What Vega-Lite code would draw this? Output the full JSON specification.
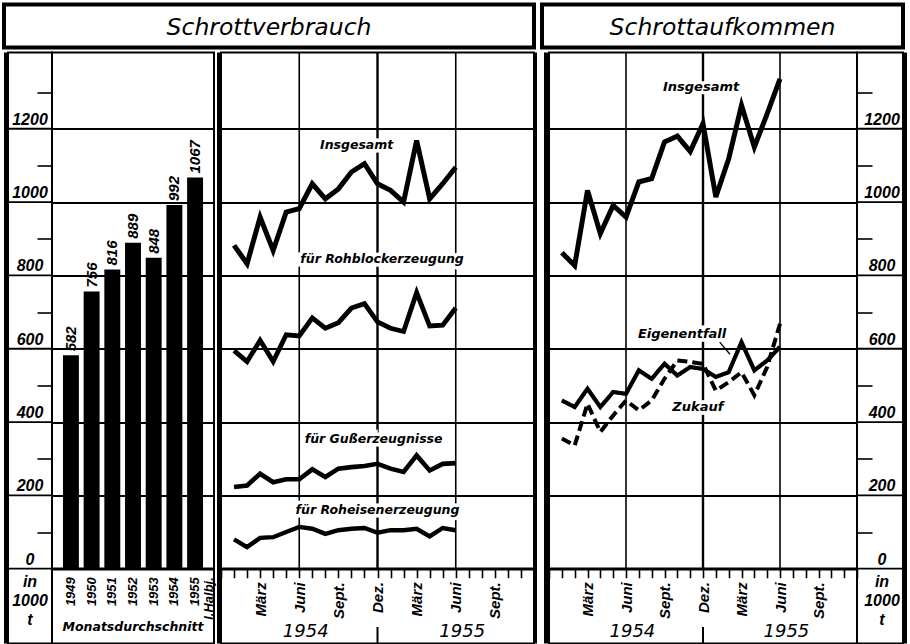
{
  "$schema": "https://vega.github.io/schema/vega-lite/v6.json",
  "background": "white",
  "padding": {"left": 2, "top": 2.5, "right": 0, "bottom": 0},
  "spacing": 0,
  "datasets": {
    "balken": [
      {"jahr": "1949", "wert": 582},
      {"jahr": "1950", "wert": 756},
      {"jahr": "1951", "wert": 816},
      {"jahr": "1952", "wert": 889},
      {"jahr": "1953", "wert": 848},
      {"jahr": "1954", "wert": 992},
      {"jahr": "1955 I.Halbj.", "wert": 1067}
    ],
    "verbrauch": [
      {"monat": 1, "reihe": "Insgesamt", "wert": 882}, {"monat": 2, "reihe": "Insgesamt", "wert": 832}, {"monat": 3, "reihe": "Insgesamt", "wert": 959}, {"monat": 4, "reihe": "Insgesamt", "wert": 868}, {"monat": 5, "reihe": "Insgesamt", "wert": 973}, {"monat": 6, "reihe": "Insgesamt", "wert": 982}, {"monat": 7, "reihe": "Insgesamt", "wert": 1050}, {"monat": 8, "reihe": "Insgesamt", "wert": 1009}, {"monat": 9, "reihe": "Insgesamt", "wert": 1036}, {"monat": 10, "reihe": "Insgesamt", "wert": 1082}, {"monat": 11, "reihe": "Insgesamt", "wert": 1105}, {"monat": 12, "reihe": "Insgesamt", "wert": 1050}, {"monat": 13, "reihe": "Insgesamt", "wert": 1032}, {"monat": 14, "reihe": "Insgesamt", "wert": 1000}, {"monat": 15, "reihe": "Insgesamt", "wert": 1168}, {"monat": 16, "reihe": "Insgesamt", "wert": 1009}, {"monat": 17, "reihe": "Insgesamt", "wert": 1050}, {"monat": 18, "reihe": "Insgesamt", "wert": 1095},
      {"monat": 1, "reihe": "für Rohblockerzeugung", "wert": 595}, {"monat": 2, "reihe": "für Rohblockerzeugung", "wert": 565}, {"monat": 3, "reihe": "für Rohblockerzeugung", "wert": 623}, {"monat": 4, "reihe": "für Rohblockerzeugung", "wert": 565}, {"monat": 5, "reihe": "für Rohblockerzeugung", "wert": 638}, {"monat": 6, "reihe": "für Rohblockerzeugung", "wert": 635}, {"monat": 7, "reihe": "für Rohblockerzeugung", "wert": 684}, {"monat": 8, "reihe": "für Rohblockerzeugung", "wert": 656}, {"monat": 9, "reihe": "für Rohblockerzeugung", "wert": 671}, {"monat": 10, "reihe": "für Rohblockerzeugung", "wert": 711}, {"monat": 11, "reihe": "für Rohblockerzeugung", "wert": 723}, {"monat": 12, "reihe": "für Rohblockerzeugung", "wert": 673}, {"monat": 13, "reihe": "für Rohblockerzeugung", "wert": 656}, {"monat": 14, "reihe": "für Rohblockerzeugung", "wert": 647}, {"monat": 15, "reihe": "für Rohblockerzeugung", "wert": 753}, {"monat": 16, "reihe": "für Rohblockerzeugung", "wert": 662}, {"monat": 17, "reihe": "für Rohblockerzeugung", "wert": 664}, {"monat": 18, "reihe": "für Rohblockerzeugung", "wert": 711},
      {"monat": 1, "reihe": "für Gußerzeugnisse", "wert": 223}, {"monat": 2, "reihe": "für Gußerzeugnisse", "wert": 227}, {"monat": 3, "reihe": "für Gußerzeugnisse", "wert": 259}, {"monat": 4, "reihe": "für Gußerzeugnisse", "wert": 236}, {"monat": 5, "reihe": "für Gußerzeugnisse", "wert": 244}, {"monat": 6, "reihe": "für Gußerzeugnisse", "wert": 244}, {"monat": 7, "reihe": "für Gußerzeugnisse", "wert": 271}, {"monat": 8, "reihe": "für Gußerzeugnisse", "wert": 250}, {"monat": 9, "reihe": "für Gußerzeugnisse", "wert": 273}, {"monat": 10, "reihe": "für Gußerzeugnisse", "wert": 277}, {"monat": 11, "reihe": "für Gußerzeugnisse", "wert": 280}, {"monat": 12, "reihe": "für Gußerzeugnisse", "wert": 286}, {"monat": 13, "reihe": "für Gußerzeugnisse", "wert": 273}, {"monat": 14, "reihe": "für Gußerzeugnisse", "wert": 264}, {"monat": 15, "reihe": "für Gußerzeugnisse", "wert": 309}, {"monat": 16, "reihe": "für Gußerzeugnisse", "wert": 268}, {"monat": 17, "reihe": "für Gußerzeugnisse", "wert": 286}, {"monat": 18, "reihe": "für Gußerzeugnisse", "wert": 288},
      {"monat": 1, "reihe": "für Roheisenerzeugung", "wert": 80}, {"monat": 2, "reihe": "für Roheisenerzeugung", "wert": 59}, {"monat": 3, "reihe": "für Roheisenerzeugung", "wert": 84}, {"monat": 4, "reihe": "für Roheisenerzeugung", "wert": 86}, {"monat": 5, "reihe": "für Roheisenerzeugung", "wert": 100}, {"monat": 6, "reihe": "für Roheisenerzeugung", "wert": 114}, {"monat": 7, "reihe": "für Roheisenerzeugung", "wert": 109}, {"monat": 8, "reihe": "für Roheisenerzeugung", "wert": 95}, {"monat": 9, "reihe": "für Roheisenerzeugung", "wert": 105}, {"monat": 10, "reihe": "für Roheisenerzeugung", "wert": 109}, {"monat": 11, "reihe": "für Roheisenerzeugung", "wert": 111}, {"monat": 12, "reihe": "für Roheisenerzeugung", "wert": 98}, {"monat": 13, "reihe": "für Roheisenerzeugung", "wert": 105}, {"monat": 14, "reihe": "für Roheisenerzeugung", "wert": 105}, {"monat": 15, "reihe": "für Roheisenerzeugung", "wert": 109}, {"monat": 16, "reihe": "für Roheisenerzeugung", "wert": 88}, {"monat": 17, "reihe": "für Roheisenerzeugung", "wert": 111}, {"monat": 18, "reihe": "für Roheisenerzeugung", "wert": 105}
    ],
    "verbrauchText": [
      {"reihe": "Insgesamt", "monat": 10.4, "wert": 1155},
      {"reihe": "für Rohblockerzeugung", "monat": 12.35, "wert": 844},
      {"reihe": "für Gußerzeugnisse", "monat": 11.7, "wert": 353},
      {"reihe": "für Roheisenerzeugung", "monat": 12.0, "wert": 160}
    ],
    "aufkommen": [
      {"monat": 1, "reihe": "Insgesamt", "wert": 862}, {"monat": 2, "reihe": "Insgesamt", "wert": 827}, {"monat": 3, "reihe": "Insgesamt", "wert": 1032}, {"monat": 4, "reihe": "Insgesamt", "wert": 914}, {"monat": 5, "reihe": "Insgesamt", "wert": 991}, {"monat": 6, "reihe": "Insgesamt", "wert": 959}, {"monat": 7, "reihe": "Insgesamt", "wert": 1055}, {"monat": 8, "reihe": "Insgesamt", "wert": 1064}, {"monat": 9, "reihe": "Insgesamt", "wert": 1164}, {"monat": 10, "reihe": "Insgesamt", "wert": 1180}, {"monat": 11, "reihe": "Insgesamt", "wert": 1138}, {"monat": 12, "reihe": "Insgesamt", "wert": 1214}, {"monat": 13, "reihe": "Insgesamt", "wert": 1014}, {"monat": 14, "reihe": "Insgesamt", "wert": 1118}, {"monat": 15, "reihe": "Insgesamt", "wert": 1264}, {"monat": 16, "reihe": "Insgesamt", "wert": 1150}, {"monat": 17, "reihe": "Insgesamt", "wert": 1241}, {"monat": 18, "reihe": "Insgesamt", "wert": 1336},
      {"monat": 1, "reihe": "Eigenentfall", "wert": 459}, {"monat": 2, "reihe": "Eigenentfall", "wert": 441}, {"monat": 3, "reihe": "Eigenentfall", "wert": 491}, {"monat": 4, "reihe": "Eigenentfall", "wert": 441}, {"monat": 5, "reihe": "Eigenentfall", "wert": 482}, {"monat": 6, "reihe": "Eigenentfall", "wert": 477}, {"monat": 7, "reihe": "Eigenentfall", "wert": 541}, {"monat": 8, "reihe": "Eigenentfall", "wert": 518}, {"monat": 9, "reihe": "Eigenentfall", "wert": 559}, {"monat": 10, "reihe": "Eigenentfall", "wert": 527}, {"monat": 11, "reihe": "Eigenentfall", "wert": 550}, {"monat": 12, "reihe": "Eigenentfall", "wert": 545}, {"monat": 13, "reihe": "Eigenentfall", "wert": 523}, {"monat": 14, "reihe": "Eigenentfall", "wert": 536}, {"monat": 15, "reihe": "Eigenentfall", "wert": 618}, {"monat": 16, "reihe": "Eigenentfall", "wert": 541}, {"monat": 17, "reihe": "Eigenentfall", "wert": 568}, {"monat": 18, "reihe": "Eigenentfall", "wert": 605},
      {"monat": 1, "reihe": "Zukauf", "wert": 355}, {"monat": 2, "reihe": "Zukauf", "wert": 336}, {"monat": 3, "reihe": "Zukauf", "wert": 450}, {"monat": 4, "reihe": "Zukauf", "wert": 373}, {"monat": 5, "reihe": "Zukauf", "wert": 418}, {"monat": 6, "reihe": "Zukauf", "wert": 459}, {"monat": 7, "reihe": "Zukauf", "wert": 432}, {"monat": 8, "reihe": "Zukauf", "wert": 459}, {"monat": 9, "reihe": "Zukauf", "wert": 518}, {"monat": 10, "reihe": "Zukauf", "wert": 568}, {"monat": 11, "reihe": "Zukauf", "wert": 564}, {"monat": 12, "reihe": "Zukauf", "wert": 559}, {"monat": 13, "reihe": "Zukauf", "wert": 486}, {"monat": 14, "reihe": "Zukauf", "wert": 509}, {"monat": 15, "reihe": "Zukauf", "wert": 536}, {"monat": 16, "reihe": "Zukauf", "wert": 473}, {"monat": 17, "reihe": "Zukauf", "wert": 550}, {"monat": 18, "reihe": "Zukauf", "wert": 668}
    ],
    "aufkommenText": [
      {"reihe": "Insgesamt", "monat": 11.85, "wert": 1313},
      {"reihe": "Eigenentfall", "monat": 10.37, "wert": 639},
      {"reihe": "Zukauf", "monat": 11.6, "wert": 440}
    ],
    "hinweis": [
      {"monat": 13.3, "wert": 618},
      {"monat": 14.1, "wert": 585}
    ],
    "halbjahre": [{"monat": 6}, {"monat": 12}, {"monat": 18}],
    "jahreswechsel": [{"monat": 12}],
    "skala": [{"v": 0}, {"v": 200}, {"v": 400}, {"v": 600}, {"v": 800}, {"v": 1000}, {"v": 1200}],
    "jahre": [{"jahr": "1954", "monat": 6.5}, {"jahr": "1955", "monat": 18.5}]
  },
  "vconcat": [
    {
      "spacing": 0,
      "bounds": "flush",
      "hconcat": [
        {"width": 530, "height": 43, "data": {"values": [{"titel": "Schrottverbrauch"}]},
         "view": {"stroke": "black", "strokeWidth": 4},
         "mark": {"type": "text", "font": "DejaVu Sans", "fontStyle": "italic", "fontSize": 23.5, "baseline": "middle", "dy": 2},
         "encoding": {"text": {"field": "titel", "type": "nominal"}}},
        {"width": 8, "height": 43, "data": {"values": [{}]}, "view": {"stroke": null}, "mark": {"type": "rect", "opacity": 0}},
        {"width": 361, "height": 43, "data": {"values": [{"titel": "Schrottaufkommen"}]},
         "view": {"stroke": "black", "strokeWidth": 4},
         "mark": {"type": "text", "font": "DejaVu Sans", "fontStyle": "italic", "fontSize": 23.5, "baseline": "middle", "dy": 2},
         "encoding": {"text": {"field": "titel", "type": "nominal"}}}
      ]
    },
    {
      "spacing": 0,
      "bounds": "flush",
      "hconcat": [
        {"width": 4, "height": 591, "data": {"values": [{}]}, "view": {"fill": "black", "stroke": null}, "mark": {"type": "rect", "opacity": 0}},
        {"width": 44, "height": 591,
         "layer": [
           {"data": {"name": "skala"},
            "mark": {"type": "rule", "color": "black", "strokeWidth": 1.8},
            "encoding": {"y": {"field": "v", "type": "quantitative", "scale": {"domain": [-204, 1408], "nice": false, "zero": false},
              "axis": {"orient": "left", "offset": -44, "values": [100, 300, 500, 700, 900, 1100, 1300], "tickSize": 15, "tickWidth": 1.6, "tickColor": "black", "labels": false, "domain": false, "grid": false, "title": null}}}},
           {"data": {"name": "skala"},
            "mark": {"type": "text", "baseline": "bottom", "dy": -1, "font": "Liberation Sans", "fontStyle": "italic", "fontWeight": "bold", "fontSize": 16},
            "encoding": {"y": {"field": "v", "type": "quantitative"}, "text": {"field": "v", "type": "quantitative", "format": "d"}}},
           {"data": {"values": [{}]},
            "mark": {"type": "text", "text": ["in", "1000", "t"], "lineHeight": 19, "baseline": "middle", "font": "Liberation Sans", "fontStyle": "italic", "fontWeight": "bold", "fontSize": 16},
            "encoding": {"y": {"datum": -36, "type": "quantitative"}}}
         ]},
        {"width": 162, "height": 591,
         "layer": [
           {"data": {"name": "balken"},
            "mark": {"type": "bar", "color": "black"},
            "encoding": {
              "x": {"field": "jahr", "type": "nominal", "sort": null, "scale": {"paddingInner": 0.23, "paddingOuter": 0.53},
                "axis": {"orient": "bottom", "offset": -74.8, "labelAngle": 270, "labelAlign": "right", "labelBaseline": "middle", "ticks": false, "domain": false, "labelPadding": 8, "labelFont": "Liberation Sans", "labelFontStyle": "italic", "labelFontWeight": "bold", "labelFontSize": 13, "labelLineHeight": 14, "labelColor": "black", "labelExpr": "datum.value == '1955 I.Halbj.' ? ['1955', 'I.Halbj.'] : datum.label", "title": null, "labelOverlap": false}},
              "y": {"field": "wert", "type": "quantitative", "scale": {"domain": [-204, 1408], "nice": false, "zero": false},
                "axis": {"values": [0, 200, 400, 600, 800, 1000, 1200], "grid": true, "gridColor": "black", "gridWidth": {"condition": {"test": "datum.value == 0", "value": 3}, "value": 1.8}, "labels": false, "ticks": false, "domain": false, "title": null}},
              "y2": {"datum": 0}
            }},
           {"data": {"name": "balken"},
            "mark": {"type": "text", "angle": 270, "align": "left", "baseline": "middle", "dx": 4, "font": "Liberation Sans", "fontStyle": "italic", "fontWeight": "bold", "fontSize": 15},
            "encoding": {"x": {"field": "jahr", "type": "nominal", "sort": null}, "y": {"field": "wert", "type": "quantitative"}, "text": {"field": "wert", "type": "quantitative", "format": "d"}}},
           {"data": {"values": [{"text": "Monatsdurchschnitt"}]},
            "mark": {"type": "text", "baseline": "middle", "font": "DejaVu Sans", "fontStyle": "italic", "fontWeight": "bold", "fontSize": 12.5},
            "encoding": {"y": {"datum": -160, "type": "quantitative"}, "text": {"field": "text", "type": "nominal"}}}
         ]},
        {"width": 3, "height": 591, "data": {"values": [{}]}, "view": {"stroke": null}, "mark": {"type": "rect", "opacity": 0}},
        {"width": 4, "height": 591, "data": {"values": [{}]}, "view": {"fill": "black", "stroke": null}, "mark": {"type": "rect", "opacity": 0}},
        {"width": 313, "height": 591,
         "encoding": {
           "x": {"field": "monat", "type": "quantitative", "scale": {"domain": [0, 24], "nice": false, "zero": false},
             "axis": {"orient": "bottom", "offset": -74.8, "values": [0, 1, 2, 3, 4, 5, 6, 7, 8, 9, 10, 11, 12, 13, 14, 15, 16, 17, 18, 19, 20, 21, 22, 23, 24],
               "grid": false, "tickSize": 9, "tickWidth": 1.6, "tickColor": "black", "domain": false,
               "labelExpr": "['', '', '', 'März', '', '', 'Juni', '', '', 'Sept.', '', '', 'Dez.', '', '', 'März', '', '', 'Juni', '', '', 'Sept.', '', '', ''][datum.value]",
               "labelAngle": 270, "labelAlign": "right", "labelBaseline": "middle", "labelPadding": 4, "labelFont": "Liberation Sans", "labelFontStyle": "italic", "labelFontWeight": "bold", "labelFontSize": 15, "labelColor": "black", "labelOverlap": false, "labelBound": false, "labelFlush": false, "title": null}}
         },
         "layer": [
           {"data": {"name": "halbjahre"},
            "mark": {"type": "rule", "color": "black"},
            "encoding": {"y": {"datum": 0, "type": "quantitative", "scale": {"domain": [-204, 1408], "nice": false, "zero": false}}, "y2": {"datum": 1408}, "strokeWidth": {"condition": {"test": "datum.monat == 12", "value": 2.4}, "value": 1.6}}},
           {"data": {"name": "verbrauchText"},
            "mark": {"type": "text", "font": "DejaVu Sans", "fontStyle": "italic", "fontWeight": "bold", "fontSize": 12.5, "baseline": "middle", "color": "white", "stroke": "white", "strokeWidth": 7},
            "encoding": {"y": {"field": "wert", "type": "quantitative"}, "text": {"field": "reihe", "type": "nominal"}}},
           {"data": {"name": "verbrauch"},
            "mark": {"type": "line", "color": "black", "strokeJoin": "miter", "strokeCap": "butt"},
            "encoding": {
              "y": {"field": "wert", "type": "quantitative",
                "axis": {"values": [0, 200, 400, 600, 800, 1000, 1200], "grid": true, "gridColor": "black", "gridWidth": {"condition": {"test": "datum.value == 0", "value": 3}, "value": 1.8}, "labels": false, "ticks": false, "domain": false, "title": null}},
              "strokeWidth": {"field": "reihe", "type": "nominal", "scale": {"domain": ["Insgesamt", "für Rohblockerzeugung", "für Gußerzeugnisse", "für Roheisenerzeugung"], "range": [5, 4, 3.3, 3.3]}, "legend": null}
            }},
           {"data": {"name": "verbrauchText"},
            "mark": {"type": "text", "font": "DejaVu Sans", "fontStyle": "italic", "fontWeight": "bold", "fontSize": 12.5, "baseline": "middle", "color": "black"},
            "encoding": {"y": {"field": "wert", "type": "quantitative"}, "text": {"field": "reihe", "type": "nominal"}}},
           {"data": {"name": "jahre"},
            "mark": {"type": "text", "baseline": "middle", "font": "DejaVu Sans", "fontStyle": "italic", "fontSize": 18},
            "encoding": {"y": {"datum": -173, "type": "quantitative"}, "text": {"field": "jahr", "type": "nominal"}}},
           {"data": {"name": "jahreswechsel"},
            "mark": {"type": "rule", "color": "black", "strokeWidth": 2},
            "encoding": {"y": {"datum": -159, "type": "quantitative"}, "y2": {"datum": -204}}}
         ]},
        {"width": 3, "height": 591, "data": {"values": [{}]}, "view": {"fill": "black", "stroke": null}, "mark": {"type": "rect", "opacity": 0}},
        {"width": 7, "height": 591, "data": {"values": [{}]}, "view": {"stroke": null}, "mark": {"type": "rect", "opacity": 0}},
        {"width": 5, "height": 591, "data": {"values": [{}]}, "view": {"fill": "black", "stroke": null}, "mark": {"type": "rect", "opacity": 0}},
        {"width": 308, "height": 591,
         "encoding": {
           "x": {"field": "monat", "type": "quantitative", "scale": {"domain": [0, 24], "nice": false, "zero": false},
             "axis": {"orient": "bottom", "offset": -74.8, "values": [0, 1, 2, 3, 4, 5, 6, 7, 8, 9, 10, 11, 12, 13, 14, 15, 16, 17, 18, 19, 20, 21, 22, 23, 24],
               "grid": false, "tickSize": 9, "tickWidth": 1.6, "tickColor": "black", "domain": false,
               "labelExpr": "['', '', '', 'März', '', '', 'Juni', '', '', 'Sept.', '', '', 'Dez.', '', '', 'März', '', '', 'Juni', '', '', 'Sept.', '', '', ''][datum.value]",
               "labelAngle": 270, "labelAlign": "right", "labelBaseline": "middle", "labelPadding": 4, "labelFont": "Liberation Sans", "labelFontStyle": "italic", "labelFontWeight": "bold", "labelFontSize": 15, "labelColor": "black", "labelOverlap": false, "labelBound": false, "labelFlush": false, "title": null}}
         },
         "layer": [
           {"data": {"name": "halbjahre"},
            "mark": {"type": "rule", "color": "black"},
            "encoding": {"y": {"datum": 0, "type": "quantitative", "scale": {"domain": [-204, 1408], "nice": false, "zero": false}}, "y2": {"datum": 1408}, "strokeWidth": {"condition": {"test": "datum.monat == 12", "value": 2.4}, "value": 1.6}}},
           {"data": {"name": "aufkommenText"},
            "mark": {"type": "text", "font": "DejaVu Sans", "fontStyle": "italic", "fontWeight": "bold", "fontSize": 13, "baseline": "middle", "color": "white", "stroke": "white", "strokeWidth": 7},
            "encoding": {"y": {"field": "wert", "type": "quantitative"}, "text": {"field": "reihe", "type": "nominal"}}},
           {"data": {"name": "aufkommen"},
            "mark": {"type": "line", "color": "black", "strokeJoin": "miter", "strokeCap": "butt"},
            "encoding": {
              "y": {"field": "wert", "type": "quantitative",
                "axis": {"values": [0, 200, 400, 600, 800, 1000, 1200], "grid": true, "gridColor": "black", "gridWidth": {"condition": {"test": "datum.value == 0", "value": 3}, "value": 1.8}, "labels": false, "ticks": false, "domain": false, "title": null}},
              "strokeWidth": {"field": "reihe", "type": "nominal", "scale": {"domain": ["Insgesamt", "Eigenentfall", "Zukauf"], "range": [6, 3.5, 3.5]}, "legend": null},
              "strokeDash": {"field": "reihe", "type": "nominal", "scale": {"domain": ["Insgesamt", "Eigenentfall", "Zukauf"], "range": [[1, 0], [1, 0], [10, 5]]}, "legend": null}
            }},
           {"data": {"name": "hinweis"},
            "mark": {"type": "line", "color": "black", "strokeWidth": 1.3, "interpolate": "monotone"},
            "encoding": {"y": {"field": "wert", "type": "quantitative"}}},
           {"data": {"name": "aufkommenText"},
            "mark": {"type": "text", "font": "DejaVu Sans", "fontStyle": "italic", "fontWeight": "bold", "fontSize": 13, "baseline": "middle", "color": "black"},
            "encoding": {"y": {"field": "wert", "type": "quantitative"}, "text": {"field": "reihe", "type": "nominal"}}},
           {"data": {"name": "jahre"},
            "mark": {"type": "text", "baseline": "middle", "font": "DejaVu Sans", "fontStyle": "italic", "fontSize": 18},
            "encoding": {"y": {"datum": -173, "type": "quantitative"}, "text": {"field": "jahr", "type": "nominal"}}},
           {"data": {"name": "jahreswechsel"},
            "mark": {"type": "rule", "color": "black", "strokeWidth": 2},
            "encoding": {"y": {"datum": -159, "type": "quantitative"}, "y2": {"datum": -204}}}
         ]},
        {"width": 46, "height": 591,
         "layer": [
           {"data": {"name": "skala"},
            "mark": {"type": "rule", "color": "black", "strokeWidth": 1.8},
            "encoding": {"y": {"field": "v", "type": "quantitative", "scale": {"domain": [-204, 1408], "nice": false, "zero": false},
              "axis": {"orient": "right", "offset": -46, "values": [100, 300, 500, 700, 900, 1100, 1300], "tickSize": 15, "tickWidth": 1.6, "tickColor": "black", "labels": false, "domain": false, "grid": false, "title": null}}}},
           {"data": {"name": "skala"},
            "mark": {"type": "text", "baseline": "bottom", "dy": -1, "dx": 2, "font": "Liberation Sans", "fontStyle": "italic", "fontWeight": "bold", "fontSize": 16},
            "encoding": {"y": {"field": "v", "type": "quantitative"}, "text": {"field": "v", "type": "quantitative", "format": "d"}}},
           {"data": {"values": [{}]},
            "mark": {"type": "text", "text": ["in", "1000", "t"], "lineHeight": 19, "baseline": "middle", "dx": 2, "font": "Liberation Sans", "fontStyle": "italic", "fontWeight": "bold", "fontSize": 16},
            "encoding": {"y": {"datum": -36, "type": "quantitative"}}}
         ]},
        {"width": 4, "height": 591, "data": {"values": [{}]}, "view": {"fill": "black", "stroke": null}, "mark": {"type": "rect", "opacity": 0}}
      ]
    }
  ],
  "config": {
    "view": {"stroke": "black", "strokeWidth": 2},
    "axis": {"labelColor": "black", "tickColor": "black", "gridColor": "black", "labelOverlap": false},
    "text": {"color": "black"}
  }
}
